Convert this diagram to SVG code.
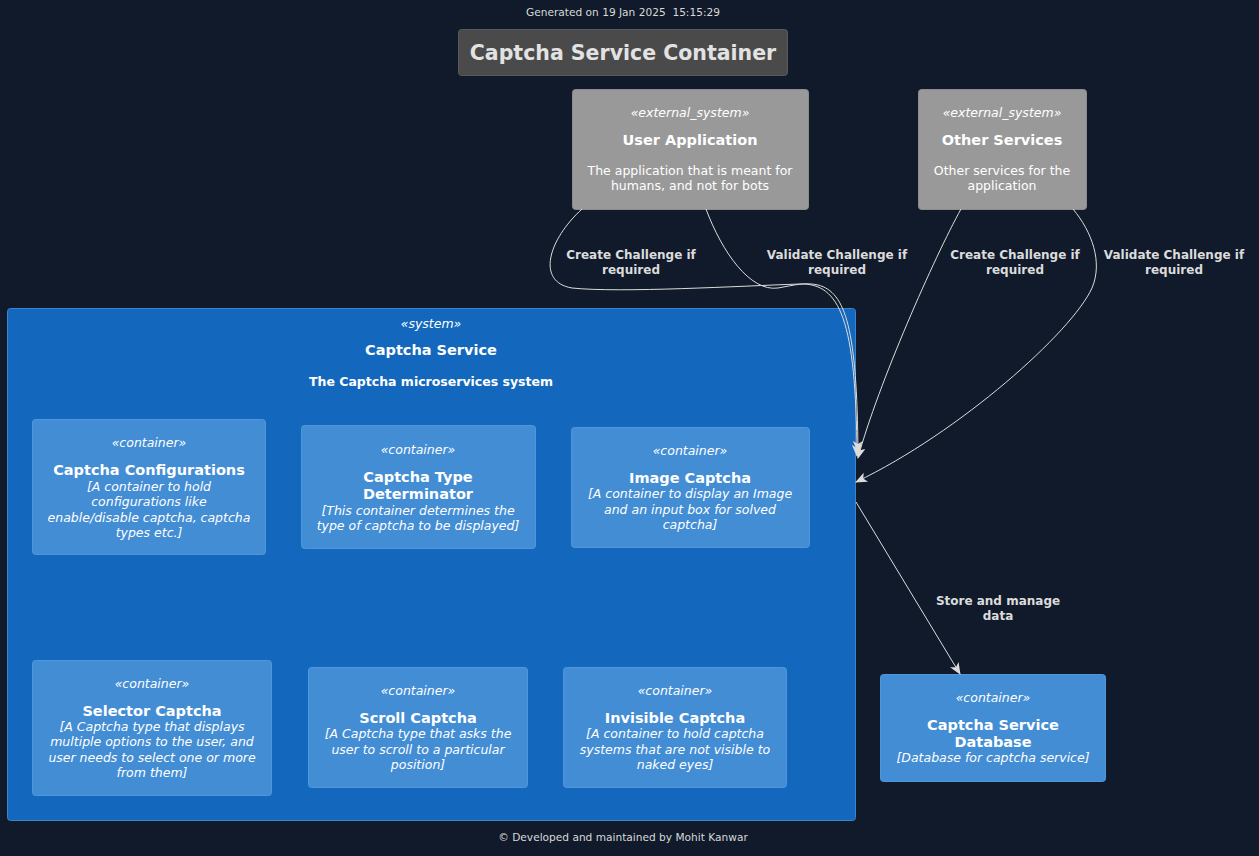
<svg xmlns="http://www.w3.org/2000/svg" width="1259" height="856" viewBox="0 0 1259 856">
<defs>
<style>
text{font-family:"DejaVu Sans","Liberation Sans",sans-serif;text-anchor:middle}
.meta{font-size:10.6px;fill:#d8d8d8;white-space:pre}
.ttl{font-size:20.5px;font-weight:bold;fill:#e2e2e2}
.st{font-size:12.5px;font-style:italic;fill:#ffffff}
.nm{font-size:14.5px;font-weight:bold;fill:#ffffff}
.ds{font-size:12.5px;fill:#ffffff}
.dsi{font-size:12.5px;font-style:italic;fill:#ffffff}
.sd{font-size:12.5px;font-weight:bold;fill:#ffffff}
.lbl{font-size:12px;font-weight:bold;fill:#dcdcdc}
.ext{fill:#999999;stroke:#8c8c8c;stroke-width:1}
.ctr{fill:#438dd5;stroke:#4f97dc;stroke-width:1}
.sys{fill:#1368bd;stroke:#3d84cf;stroke-width:1}
.edge{fill:none;stroke:#dcdcdc;stroke-width:1;marker-end:url(#arr)}
</style>
<marker id="arr" viewBox="0 0 12 10" refX="11" refY="5" markerWidth="12" markerHeight="10" markerUnits="userSpaceOnUse" orient="auto">
<path d="M0,0 L12,5 L0,10 L3,5 z" fill="#dcdcdc"/>
</marker>
</defs>
<rect width="1259" height="856" fill="#101a2a"/>
<text class="meta" x="623" y="16" xml:space="preserve">Generated on 19 Jan 2025  15:15:29</text>
<g id="title">
<rect x="458.5" y="29.5" width="329" height="46" rx="3" fill="#4a4a4a" stroke="#5a5a5a"/>
<text class="ttl" x="623" y="60">Captcha Service Container</text>
</g>
<g id="user_application">
<rect class="ext" x="572.5" y="89.5" width="236" height="120" rx="3"/>
<text class="st" x="690" y="117">«external_system»</text>
<text class="nm" x="690" y="145">User Application</text>
<text class="ds" x="690" y="175">The application that is meant for</text>
<text class="ds" x="690" y="190">humans, and not for bots</text>
</g>
<g id="other_services">
<rect class="ext" x="918.5" y="89.5" width="168" height="120" rx="3"/>
<text class="st" x="1002" y="117">«external_system»</text>
<text class="nm" x="1002" y="145">Other Services</text>
<text class="ds" x="1002" y="175">Other services for the</text>
<text class="ds" x="1002" y="190">application</text>
</g>
<g id="captcha_service">
<rect class="sys" x="7.5" y="308.5" width="848" height="512" rx="3"/>
<text class="st" x="431" y="328">«system»</text>
<text class="nm" x="431" y="355">Captcha Service</text>
<text class="sd" x="431" y="386">The Captcha microservices system</text>
</g>
<g id="captcha_configurations">
<rect class="ctr" x="32.5" y="419.5" width="233" height="135" rx="3"/>
<text class="st" x="149" y="447">«container»</text>
<text class="nm" x="149" y="475">Captcha Configurations</text>
<text class="dsi" x="149" y="491">[A container to hold</text>
<text class="dsi" x="149" y="506">configurations like</text>
<text class="dsi" x="149" y="522">enable/disable captcha, captcha</text>
<text class="dsi" x="149" y="537">types etc.]</text>
</g>
<g id="captcha_type_determinator">
<rect class="ctr" x="301.5" y="425.5" width="234" height="123" rx="3"/>
<text class="st" x="418" y="454">«container»</text>
<text class="nm" x="418" y="482">Captcha Type</text>
<text class="nm" x="418" y="499">Determinator</text>
<text class="dsi" x="418" y="515">[This container determines the</text>
<text class="dsi" x="418" y="530">type of captcha to be displayed]</text>
</g>
<g id="image_captcha">
<rect class="ctr" x="571.5" y="427.5" width="238" height="120" rx="3"/>
<text class="st" x="690" y="455">«container»</text>
<text class="nm" x="690" y="483">Image Captcha</text>
<text class="dsi" x="690" y="498">[A container to display an Image</text>
<text class="dsi" x="690" y="514">and an input box for solved</text>
<text class="dsi" x="690" y="529">captcha]</text>
</g>
<g id="selector_captcha">
<rect class="ctr" x="32.5" y="660.5" width="239" height="135" rx="3"/>
<text class="st" x="152" y="688">«container»</text>
<text class="nm" x="152" y="716">Selector Captcha</text>
<text class="dsi" x="152" y="731">[A Captcha type that displays</text>
<text class="dsi" x="152" y="746">multiple options to the user, and</text>
<text class="dsi" x="152" y="762">user needs to select one or more</text>
<text class="dsi" x="152" y="777">from them]</text>
</g>
<g id="scroll_captcha">
<rect class="ctr" x="308.5" y="667.5" width="219" height="120" rx="3"/>
<text class="st" x="418" y="695">«container»</text>
<text class="nm" x="418" y="723">Scroll Captcha</text>
<text class="dsi" x="418" y="738">[A Captcha type that asks the</text>
<text class="dsi" x="418" y="754">user to scroll to a particular</text>
<text class="dsi" x="418" y="769">position]</text>
</g>
<g id="invisible_captcha">
<rect class="ctr" x="563.5" y="667.5" width="223" height="120" rx="3"/>
<text class="st" x="675" y="695">«container»</text>
<text class="nm" x="675" y="723">Invisible Captcha</text>
<text class="dsi" x="675" y="738">[A container to hold captcha</text>
<text class="dsi" x="675" y="754">systems that are not visible to</text>
<text class="dsi" x="675" y="769">naked eyes]</text>
</g>
<g id="captcha_service_database">
<rect class="ctr" x="880.5" y="674.5" width="225" height="107" rx="3"/>
<text class="st" x="993" y="702">«container»</text>
<text class="nm" x="993" y="730">Captcha Service</text>
<text class="nm" x="993" y="747">Database</text>
<text class="dsi" x="993" y="762">[Database for captcha service]</text>
</g>
<g id="connectors">
<path class="edge" d="M582,209 C548,240 536,282 572,288 C620,293 740,286 800,284 C840,283 856,320 857,456"/>
<path class="edge" d="M706,209 C722,252 750,292 778,288 C795,285 805,282 818,285 C846,292 857,330 858,452"/>
<path class="edge" d="M961,209 C935,256 878,384 858,458"/>
<path class="edge" d="M1073,209 C1092,232 1103,262 1092,288 C1072,332 960,432 856,482"/>
<path class="edge" d="M856,502 L960,674"/>
<text class="lbl" x="631" y="259">Create Challenge if</text>
<text class="lbl" x="631" y="274">required</text>
<text class="lbl" x="837" y="259">Validate Challenge if</text>
<text class="lbl" x="837" y="274">required</text>
<text class="lbl" x="1015" y="259">Create Challenge if</text>
<text class="lbl" x="1015" y="274">required</text>
<text class="lbl" x="1174" y="259">Validate Challenge if</text>
<text class="lbl" x="1174" y="274">required</text>
<text class="lbl" x="998" y="605">Store and manage</text>
<text class="lbl" x="998" y="620">data</text>
</g>
<text class="meta" x="623" y="841">© Developed and maintained by Mohit Kanwar</text>
</svg>
